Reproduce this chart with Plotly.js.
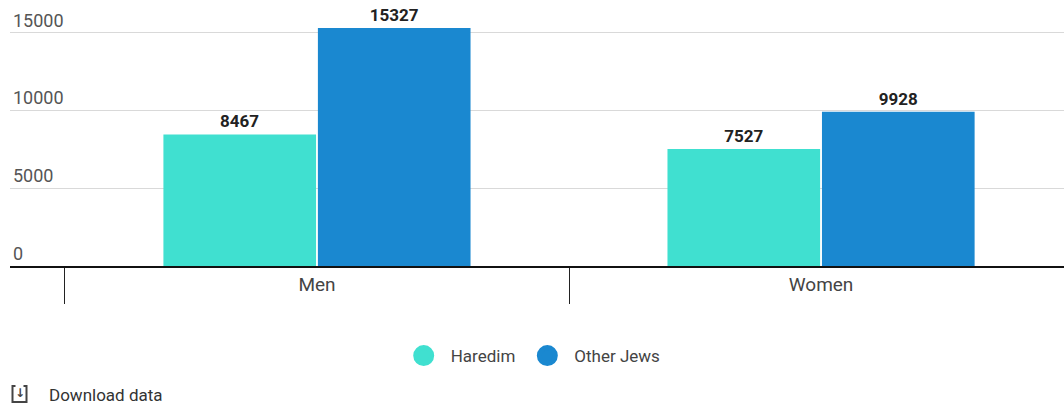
<!DOCTYPE html>
<html>
<head>
<meta charset="utf-8">
<script src="https://cdn.plot.ly/plotly-3.0.1.min.js"></script>
<style>
html,body{margin:0;padding:0;background:#fff;}
#chart{width:1064px;height:406px;}
</style>
</head>
<body>
<div id="chart"></div>
<script>
const categories = ["Men", "Women"];
const haredim = [8467, 7527];
const otherJews = [15327, 9928];
const seriesNames = ["Haredim", "Other Jews"];
const yTicks = [0, 5000, 10000, 15000];
const colors = ["#40E0D0", "#1A88D0"];

const font = "Roboto, 'Noto Sans', sans-serif";

function barTrace(vals, i) {
  return {type: "bar", x: categories, y: vals, name: seriesNames[i], marker: {color: colors[i]},
    text: vals.map(String), textposition: "outside", cliponaxis: false,
    textfont: {family: font, size: 17, color: "#222", weight: "bold"}, showlegend: false, hoverinfo: "x+y"};
}
function legendTrace(i) {
  return {type: "scatter", mode: "markers", x: [null], y: [null], name: seriesNames[i],
    marker: {color: colors[i], size: 22, symbol: "circle", line: {color: colors[i], width: 5}},
    showlegend: true, hoverinfo: "skip"};
}

const traces = [barTrace(haredim, 0), barTrace(otherJews, 1), legendTrace(0), legendTrace(1)];

const px = v => (v - 10) / 1054;
const py = v => (266 - v) / 266;

const layout = {
  width: 1064, height: 406,
  margin: {l: 10, r: 0, t: 0, b: 140},
  paper_bgcolor: "#fff", plot_bgcolor: "#fff",
  font: {family: font, size: 15, color: "#444"},
  barmode: "group", bargap: 0.387, bargroupgap: 0.012,
  xaxis: {
    type: "category", range: [-0.609, 1.482],
    showline: true, linecolor: "#111", linewidth: 2,
    ticks: "outside", tickson: "boundaries", ticklen: 36, tickwidth: 1, tickcolor: "#222",
    ticklabelstandoff: 0,
    tickfont: {family: font, size: 19, color: "#444"},
    showgrid: false, zeroline: false, fixedrange: true
  },
  yaxis: {
    range: [0, 17124], tickvals: yTicks, ticktext: yTicks.map(String),
    ticklabelposition: "inside top", showgrid: true, gridcolor: "#d9d9d9", gridwidth: 1,
    zeroline: false, showline: false, ticks: "",
    tickfont: {family: font, size: 18, color: "#555"}, fixedrange: true
  },
  legend: {
    orientation: "h", x: 0.4945, xanchor: "center", y: py(356), yanchor: "middle",
    font: {family: font, size: 17, color: "#444"}, itemsizing: "trace", itemwidth: 44, traceorder: "normal"
  },
  shapes: [
    {type: "path", xref: "paper", yref: "paper",
     path: `M ${px(15.5)} ${py(386)} L ${px(12.5)} ${py(386)} L ${px(12.5)} ${py(402)} L ${px(26.5)} ${py(402)} L ${px(26.5)} ${py(386)} L ${px(23.5)} ${py(386)}`,
     line: {color: "#444", width: 2}}
  ],
  annotations: [
    {xref: "paper", yref: "paper", x: px(19.5), y: py(393), xanchor: "center", yanchor: "middle",
     text: "<b>↓</b>", showarrow: false, font: {family: "'DejaVu Sans', sans-serif", size: 12, color: "#444"}},
    {xref: "paper", yref: "paper", x: px(47), y: py(395), xanchor: "left", yanchor: "middle",
     text: "Download data", showarrow: false, font: {family: font, size: 17, color: "#333"}}
  ]
};

Plotly.newPlot("chart", traces, layout, {displayModeBar: false, staticPlot: true});
</script>
</body>
</html>
